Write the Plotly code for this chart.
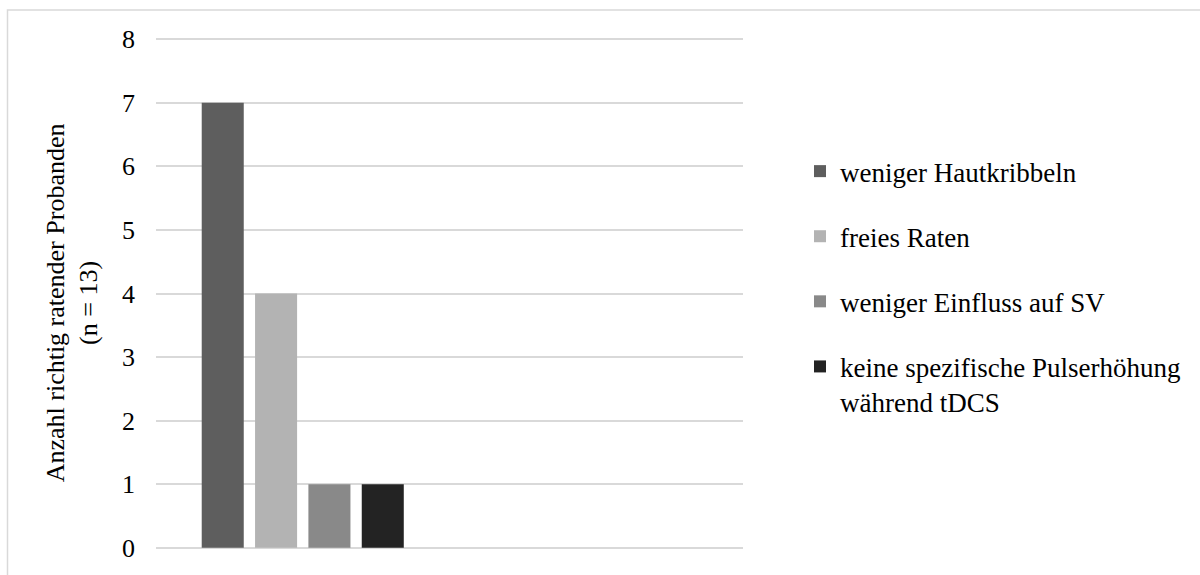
import plotly.graph_objects as go

# Data
categories = ["Verblindung"]
series_names = [
    "weniger Hautkribbeln",
    "freies Raten",
    "weniger Einfluss auf SV",
    "keine spezifische Pulserhöhung<br>während tDCS",
]
series_values = [[7], [4], [1], [1]]
series_colors = ["#5e5e5e", "#b3b3b3", "#898989", "#232323"]
y_ticks = [0, 1, 2, 3, 4, 5, 6, 7, 8]
y_title = "Anzahl richtig ratender Probanden<br>(n = 13)"

FONT = "Liberation Serif"

fig = go.Figure()
for i, (name, vals, col) in enumerate(zip(series_names, series_values, series_colors)):
    fig.add_trace(go.Bar(
        x=categories, y=vals, name=name,
        marker=dict(color=col, line=dict(width=0)),
        legendgroup=f"g{i}",
    ))

ML, MR, MT, MB = 156, 457, 38, 17
W, H = 1200, 575
pw = W - ML - MR
ph = H - MT - MB

def py(px):
    # pixel row -> paper y
    return (H - MB - px) / ph

def pxx(px):
    return (px - ML) / pw

fig.update_layout(
    width=W, height=H,
    margin=dict(l=ML, r=MR, t=MT, b=MB),
    paper_bgcolor="white", plot_bgcolor="white",
    font=dict(family=FONT, size=26, color="#000000"),
    barmode="group", bargap=0.273, bargroupgap=0.212,
    showlegend=True,
    legend=dict(
        x=pxx(800), xanchor="left",
        y=py(149), yanchor="top",
        font=dict(family=FONT, size=27, color="#000000"),
        tracegroupgap=27, valign="top",
        bgcolor="rgba(0,0,0,0)",
    ),
    xaxis=dict(
        type="category", range=[-0.5, 1.5],
        showticklabels=False, showgrid=False, zeroline=False, showline=False, ticks="",
    ),
    yaxis=dict(
        range=[-0.02, 8.02], tickvals=y_ticks, ticktext=[str(t) for t in y_ticks],
        showgrid=True, gridcolor="#d9d9d9", gridwidth=1.5,
        zeroline=False, showline=False, ticks="",
        ticklabelstandoff=20,
        tickfont=dict(family=FONT, size=26, color="#000000"),
    ),
    annotations=[dict(
        text=y_title, textangle=-90, showarrow=False,
        xref="paper", yref="paper",
        x=pxx(72), y=py(308),
        xanchor="center", yanchor="middle",
        font=dict(family=FONT, size=26, color="#000000"),
    )],
    shapes=[dict(
        type="rect", xref="paper", yref="paper",
        x0=pxx(7.5), x1=pxx(1210),
        y0=py(590), y1=py(9.5),
        line=dict(color="#d9d9d9", width=1.5), fillcolor="rgba(0,0,0,0)",
        layer="below",
    )],
)

fig.write_html("out.html")
